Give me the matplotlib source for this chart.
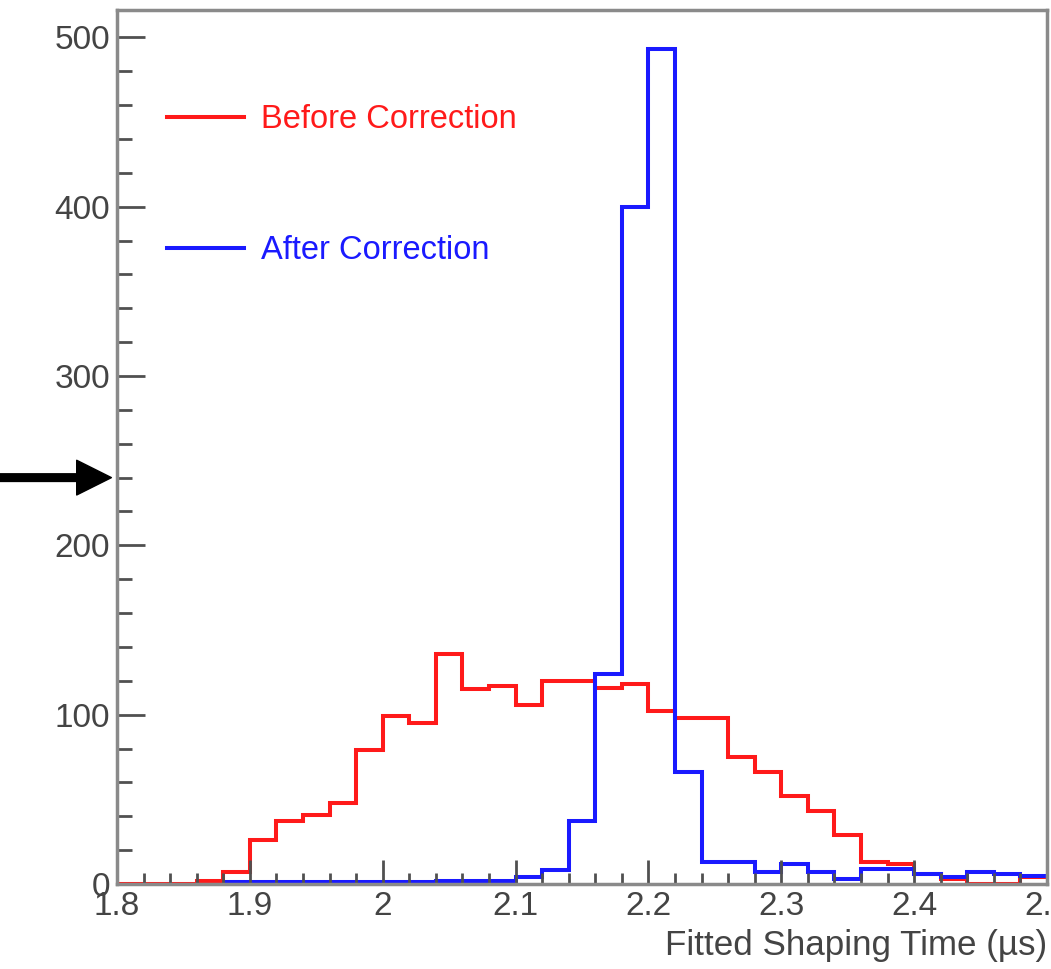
import numpy as np
import matplotlib
matplotlib.use("Agg")
import matplotlib.pyplot as plt
from matplotlib.lines import Line2D
from matplotlib.ticker import MultipleLocator, FuncFormatter

plt.rcParams['font.family'] = ['Liberation Sans', 'DejaVu Sans']

# 35 bins of 0.02 us between 1.8 and 2.5
bin_lo, bin_hi, bin_w = 1.8, 2.5, 0.02
edges = np.round(np.arange(bin_lo, bin_hi + bin_w / 2, bin_w), 3)

before = [0, 0, 0, 2, 7, 26, 37, 41, 48, 79,
          99, 95, 136, 115, 117, 106, 120, 120, 116, 118,
          102, 98, 98, 75, 66, 52, 43, 29, 13, 12,
          6, 3, 0, 0, 4]
after = [0, 0, 0, 0, 1, 1, 1, 1, 1, 1,
         1, 1, 2, 2, 2, 4, 8, 37, 124, 400,
         493, 66, 13, 13, 7, 12, 7, 3, 9, 9,
         6, 4, 7, 6, 5]

labels = ["Before Correction", "After Correction"]
colors = ["#ff1a1a", "#1a1aff"]
xlabel = "Fitted Shaping Time (\u00b5s)"
arrow_at = 240

before = np.array(before, dtype=float)
after = np.array(after, dtype=float)

fig = plt.figure(figsize=(10.51, 9.69), dpi=100)
ax = fig.add_axes([117 / 1051, 85 / 969, 930 / 1051, 874 / 969])

ax.stairs(before, edges, baseline=None, color=colors[0], lw=2.9)
first = int(np.argmax(after > 0))
ax.stairs(after[first:], edges[first:], baseline=None, color=colors[1], lw=2.9)

ax.set_xlim(bin_lo, bin_hi)
ax.set_ylim(0, 1.047 * max(before.max(), after.max()))

ax.xaxis.set_major_locator(MultipleLocator(0.1))
ax.xaxis.set_minor_locator(MultipleLocator(0.02))
ax.xaxis.set_major_formatter(FuncFormatter(lambda v, p: "%g" % round(v, 3)))
ax.yaxis.set_major_locator(MultipleLocator(100))
ax.yaxis.set_minor_locator(MultipleLocator(20))

ax.tick_params(axis='both', which='both', direction='in', colors='#505050',
               labelcolor='#444444', labelsize=24)
ax.tick_params(axis='x', which='major', length=17, width=2, pad=5)
ax.tick_params(axis='x', which='minor', length=8, width=2)
ax.tick_params(axis='y', which='major', length=20, width=2, pad=5)
ax.tick_params(axis='y', which='minor', length=11, width=2)
for s in ax.spines.values():
    s.set_color('#8a8a8a')
    s.set_linewidth(2.5)

ax.set_xlabel(xlabel, loc='right', fontsize=25.2, color='#444444', labelpad=5)

handles = [Line2D([], [], color=c, lw=2.9) for c in colors]
ax.legend(handles, labels, loc='upper left', bbox_to_anchor=(0.054, 0.892),
          frameon=False, fontsize=23.5, labelcolor=colors, handlelength=2.35,
          handletextpad=0.52, labelspacing=3.05, borderpad=0, borderaxespad=0)

ax.annotate('', xy=(-0.006, arrow_at), xycoords=('axes fraction', 'data'),
            xytext=(0, arrow_at), textcoords=('figure fraction', 'data'),
            annotation_clip=False,
            arrowprops=dict(facecolor='black', edgecolor='black', width=5.5,
                            headwidth=25, headlength=25, shrink=0))

fig.savefig('out.png', dpi=100)
